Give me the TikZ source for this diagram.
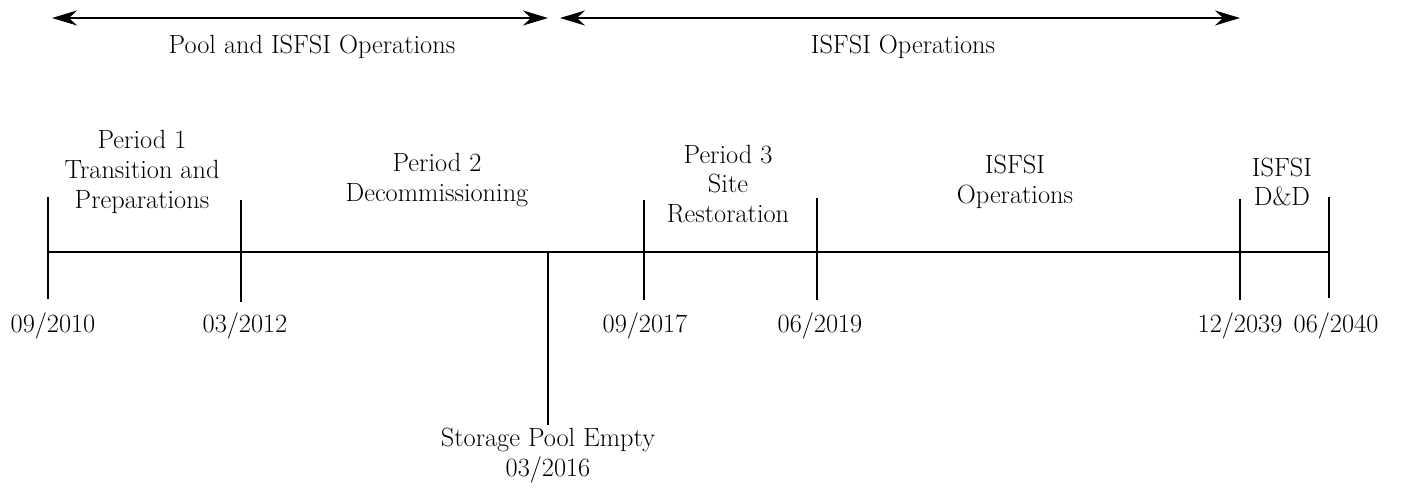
\documentclass[tikz,border=0pt]{standalone}
\usetikzlibrary{arrows.meta}
\begin{document}
\begin{tikzpicture}
[x=0.02cm,y=-0.02cm,
  tickdecorate/.style={-,line width=1.1pt},
  spandecorate/.style={{Stealth[length=5mm,width=3mm,inset=1.6mm]}-{Stealth[length=5mm,width=3mm,inset=1.6mm]},line width=1.1pt},
  textdecorate/.style={align=center,inner sep=0pt,font=\fontsize{15}{17}\selectfont}]
\useasboundingbox (0,0) rectangle (1407,493);
%% spans on top
\coordinate (poolL) at (52,18);
\coordinate (poolR) at (548,18);
\coordinate (isfsiL) at (560,18);
\coordinate (isfsiR) at (1240,18);
\draw[spandecorate] (poolL) -- (poolR);
\draw[spandecorate] (isfsiL) -- (isfsiR);
\node (poolspan) at (312,47) [textdecorate] {Pool and ISFSI Operations};
\node (isfsispan) at (903,47) [textdecorate] {ISFSI Operations};
%% ticks on the time line
\foreach \tickname/\x/\top/\bottom in {
  start/48/197/299, endone/241/200/302, pool/548/252/425,
  endtwo/644/200/300, endthree/817/198/300,
  dnd/1240/199/300, finish/1329/197/298}
{
  \coordinate (\tickname top) at (\x,\top);
  \coordinate (\tickname bot) at (\x,\bottom);
  \draw[tickdecorate] (\tickname top) -- (\tickname bot);
}
\coordinate (lineL) at (48,252);
\coordinate (lineR) at (1329,252);
\draw[tickdecorate] (lineL) -- (lineR);
%% dates below
\foreach \tickname/\x/\date in {
  start/53/09\slash 2010, endone/245/03\slash 2012,
  endtwo/645/09\slash 2017, endthree/820/06\slash 2019,
  dnd/1240/12\slash 2039, finish/1336/06\slash 2040}
{
  \node (\tickname date) at (\x,326) [textdecorate] {\date};
}
\node (pooldate) at (548,456) [textdecorate] {Storage Pool Empty\\03/2016};
%% periods above
\node (periodone) at (142,172) [textdecorate] {Period 1\\Transition and\\Preparations};
\node (periodtwo) at (437,180) [textdecorate] {Period 2\\Decommissioning};
\node (periodthree) at (728,184) [textdecorate] {Period 3\\Site\\Restoration};
\node (isfsiops) at (1015,182) [textdecorate] {ISFSI\\Operations};
\node (isfsidnd) at (1282,182) [textdecorate] {ISFSI\\D\&D};
\end{tikzpicture}
\end{document}
